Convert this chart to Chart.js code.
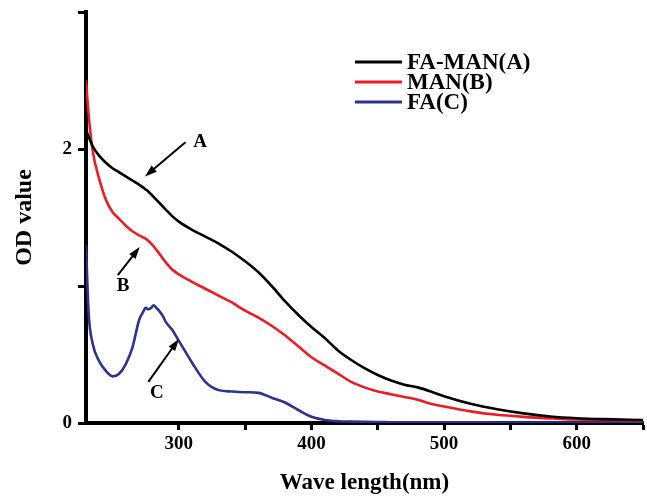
<!DOCTYPE html>
<html>
<head>
<meta charset="utf-8">
<script src="https://cdn.jsdelivr.net/npm/chart.js@4"></script>
<style>
  body { margin: 0; background: #fff; }
  #wrap { width: 647px; height: 497px; }
</style>
</head>
<body>
<div id="wrap"><canvas id="odChart"></canvas></div>
<script>
// wavelength (nm) and OD readings
const waveLength = [230, 232, 235, 240, 245, 250, 255, 260, 265, 270, 273, 275, 277, 279, 281, 283, 285, 288, 290, 295,
  300, 310, 320, 330, 340, 350, 360, 370, 380, 390, 400, 410, 420, 430, 440, 450, 460, 470, 480, 490,
  500, 520, 540, 560, 580, 600, 620, 650];
const faMan = [2.14, 2.09, 2.02, 1.95, 1.90, 1.86, 1.83, 1.80, 1.77, 1.74, 1.72, 1.705, 1.69, 1.67, 1.65, 1.63, 1.61, 1.58, 1.56, 1.51,
  1.47, 1.41, 1.36, 1.31, 1.25, 1.18, 1.10, 1.00, 0.89, 0.79, 0.70, 0.62, 0.53, 0.46, 0.40, 0.35, 0.31, 0.28, 0.26, 0.23,
  0.195, 0.14, 0.10, 0.07, 0.048, 0.035, 0.028, 0.022];
const man = [2.50, 2.25, 1.99, 1.78, 1.63, 1.54, 1.49, 1.44, 1.40, 1.37, 1.355, 1.345, 1.33, 1.31, 1.29, 1.265, 1.24, 1.20, 1.175, 1.12,
  1.085, 1.03, 0.98, 0.93, 0.88, 0.82, 0.77, 0.71, 0.64, 0.56, 0.48, 0.42, 0.36, 0.30, 0.26, 0.23, 0.21, 0.19, 0.17, 0.14,
  0.12, 0.085, 0.06, 0.045, 0.034, 0.026, 0.022, 0.018];
const fa = [1.30, 0.80, 0.58, 0.45, 0.38, 0.34, 0.36, 0.43, 0.55, 0.75, 0.81, 0.84, 0.83, 0.84, 0.86, 0.84, 0.82, 0.78, 0.74, 0.68,
  0.60, 0.44, 0.30, 0.24, 0.23, 0.225, 0.22, 0.185, 0.15, 0.095, 0.045, 0.022, 0.013, 0.010, 0.008, 0.007, 0.006, 0.006, 0.005, 0.005,
  0.005, 0.005, 0.004, 0.004, 0.004, 0.004, 0.004, 0.004];

const seriesNames = ['FA-MAN(A)', 'MAN(B)', 'FA(C)'];
const seriesColors = ['#000000', '#ed1c24', '#2e3192'];
const xTickLabels = [300, 400, 500, 600];
const yTickLabels = [0, 2];

// arrow annotations, in data units: [label, tailX, tailY, headX, headY, labelX, labelY]
const arrowNotes = [
  ['A', 305, 2.05, 274.5, 1.80, 316, 2.05],
  ['B', 254, 1.08, 270.5, 1.285, 258, 1.0],
  ['C', 277, 0.30, 300, 0.613, 283.5, 0.22]
];

const serif = '"Liberation Serif", "Times New Roman", serif';

function toPoints(ys) {
  return waveLength.map((w, i) => ({ x: w, y: ys[i] }));
}

const overlay = {
  id: 'overlay',
  afterDraw(chart) {
    const c = chart.ctx;
    const xs = chart.scales.x, ys = chart.scales.y;
    c.save();
    // legend
    seriesNames.forEach((name, i) => {
      const y = 62 + i * 20;
      c.strokeStyle = seriesColors[i];
      c.lineWidth = 3;
      c.beginPath();
      c.moveTo(355, y);
      c.lineTo(402, y);
      c.stroke();
      c.fillStyle = '#000';
      c.font = 'bold 23px ' + serif;
      c.textBaseline = 'middle';
      c.fillText(name, 407, y + 1);
    });
    // arrows
    arrowNotes.forEach(n => {
      const tx = xs.getPixelForValue(n[1]), ty = ys.getPixelForValue(n[2]);
      const hx = xs.getPixelForValue(n[3]), hy = ys.getPixelForValue(n[4]);
      const ang = Math.atan2(hy - ty, hx - tx);
      c.strokeStyle = '#000';
      c.fillStyle = '#000';
      c.lineWidth = 2;
      c.beginPath();
      c.moveTo(tx, ty);
      c.lineTo(hx - 8 * Math.cos(ang), hy - 8 * Math.sin(ang));
      c.stroke();
      c.beginPath();
      c.moveTo(hx, hy);
      c.lineTo(hx - 12 * Math.cos(ang) + 4 * Math.sin(ang), hy - 12 * Math.sin(ang) - 4 * Math.cos(ang));
      c.lineTo(hx - 12 * Math.cos(ang) - 4 * Math.sin(ang), hy - 12 * Math.sin(ang) + 4 * Math.cos(ang));
      c.closePath();
      c.fill();
      c.font = 'bold 19px ' + serif;
      c.textAlign = 'center';
      c.textBaseline = 'middle';
      c.fillText(n[0], xs.getPixelForValue(n[5]), ys.getPixelForValue(n[6]));
    });
    c.restore();
  }
};

const ctx = document.getElementById('odChart').getContext('2d');
const odChart = new Chart(ctx, {
  type: 'line',
  data: {
    datasets: [faMan, man, fa].map((ys, i) => ({
      label: seriesNames[i],
      data: toPoints(ys),
      borderColor: seriesColors[i],
      borderWidth: 2.6,
      pointRadius: 0,
      fill: false,
      cubicInterpolationMode: 'monotone'
    }))
  },
  options: {
    responsive: true,
    maintainAspectRatio: false,
    animation: false,
    layout: { padding: { top: 12, right: 4, left: 0, bottom: 0 } },
    plugins: { legend: { display: false }, tooltip: { enabled: false } },
    scales: {
      x: {
        type: 'linear',
        min: 230,
        max: 650,
        afterBuildTicks: s => { s.ticks = s.ticks.filter(t => t.value % 50 === 0); },
        afterFit: s => { s.height = 74; s.paddingLeft = 0; s.paddingRight = 0; },
        ticks: {
          stepSize: 50,
          autoSkip: false,
          maxRotation: 0,
          padding: 3,
          color: '#000',
          font: { family: serif, size: 19, weight: 'bold' },
          callback: v => xTickLabels.includes(v) ? v : ''
        },
        grid: { drawOnChartArea: false, tickLength: 7, tickWidth: 3, color: '#000' },
        border: { display: true, width: 4, color: '#000' },
        title: {
          display: true,
          text: 'Wave length(nm)',
          color: '#000',
          font: { family: serif, size: 23, weight: 'bold' },
          padding: { top: 0, bottom: 0 }
        }
      },
      y: {
        min: 0,
        max: 3,
        afterFit: s => { s.width = 86; s.paddingTop = 0; s.paddingBottom = 0; },
        ticks: {
          stepSize: 1,
          padding: 6,
          color: '#000',
          font: { family: serif, size: 19, weight: 'bold' },
          callback: v => yTickLabels.includes(v) ? v : ''
        },
        grid: { drawOnChartArea: false, tickLength: 8, tickWidth: 3, color: '#000' },
        border: { display: true, width: 4, color: '#000' },
        title: {
          display: true,
          text: 'OD value',
          color: '#000',
          font: { family: serif, size: 24, weight: 'bold' },
          padding: { top: 10, bottom: 0 }
        }
      }
    }
  },
  plugins: [overlay]
});
</script>
</body>
</html>
